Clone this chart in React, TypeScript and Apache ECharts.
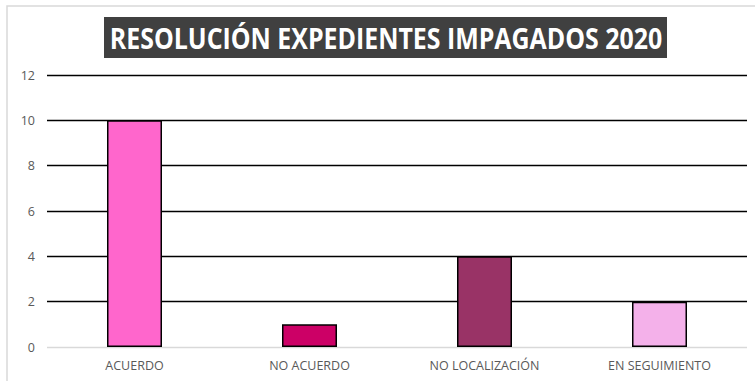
import React, { useEffect, useRef } from "react";
import * as echarts from "echarts";

const categories = ["ACUERDO", "NO ACUERDO", "NO LOCALIZACIÓN", "EN SEGUIMIENTO"];
const values = [10, 1, 4, 2];
const barColors = ["#FF66CC", "#CC0066", "#993366", "#F4B1EA"];
const titleText = "RESOLUCIÓN EXPEDIENTES IMPAGADOS 2020";

export default function App() {
  const ref = useRef<HTMLDivElement>(null);
  useEffect(() => {
    if (!ref.current) return;
    const chart = echarts.init(ref.current, null, { renderer: "svg" });
    chart.setOption({
      animation: false,
      backgroundColor: "#ffffff",
      grid: { left: 47, right: 8, top: 75, bottom: 34 },
      xAxis: {
        type: "category",
        data: categories,
        axisLine: { show: false },
        axisTick: { show: false },
        axisLabel: {
          color: "#595959",
          fontSize: 12.5,
          margin: 12,
          fontFamily: "'Open Sans', sans-serif",
        },
      },
      yAxis: {
        type: "value",
        min: 0,
        max: 12,
        interval: 2,
        axisLine: { show: false },
        axisTick: { show: false },
        axisLabel: {
          color: "#595959",
          fontSize: 12.5,
          margin: 12,
          fontFamily: "'Open Sans', sans-serif",
        },
        splitLine: {
          lineStyle: {
            color: ["#d9d9d9", "#000000", "#000000", "#000000", "#000000", "#000000", "#000000"],
            width: 1.4,
          },
        },
      },
      series: [
        {
          type: "bar",
          barWidth: 55,
          data: values.map((v, i) => ({
            value: v,
            itemStyle: { color: barColors[i] },
          })),
          itemStyle: { borderColor: "#000000", borderWidth: 1.5 },
        },
      ],
      graphic: [
        {
          type: "rect",
          shape: { x: 7, y: 6, width: 760, height: 390 },
          style: { fill: "none", stroke: "#d9d9d9", lineWidth: 1.5 },
          z: -1,
        },
        {
          type: "rect",
          shape: { x: 104, y: 17, width: 563, height: 41 },
          style: { fill: "#404040" },
        },
        {
          type: "text",
          x: 386,
          y: 38,
          scaleX: 0.89,
          style: {
            text: titleText,
            fill: "#ffffff",
            font: "bold 28px 'Open Sans', sans-serif",
            textAlign: "center",
            textVerticalAlign: "middle",
          },
        },
      ],
    });
    return () => chart.dispose();
  }, []);
  return (
    <div
      ref={ref}
      style={{ position: "absolute", left: 0, top: 0, width: 755, height: 381 }}
    />
  );
}
